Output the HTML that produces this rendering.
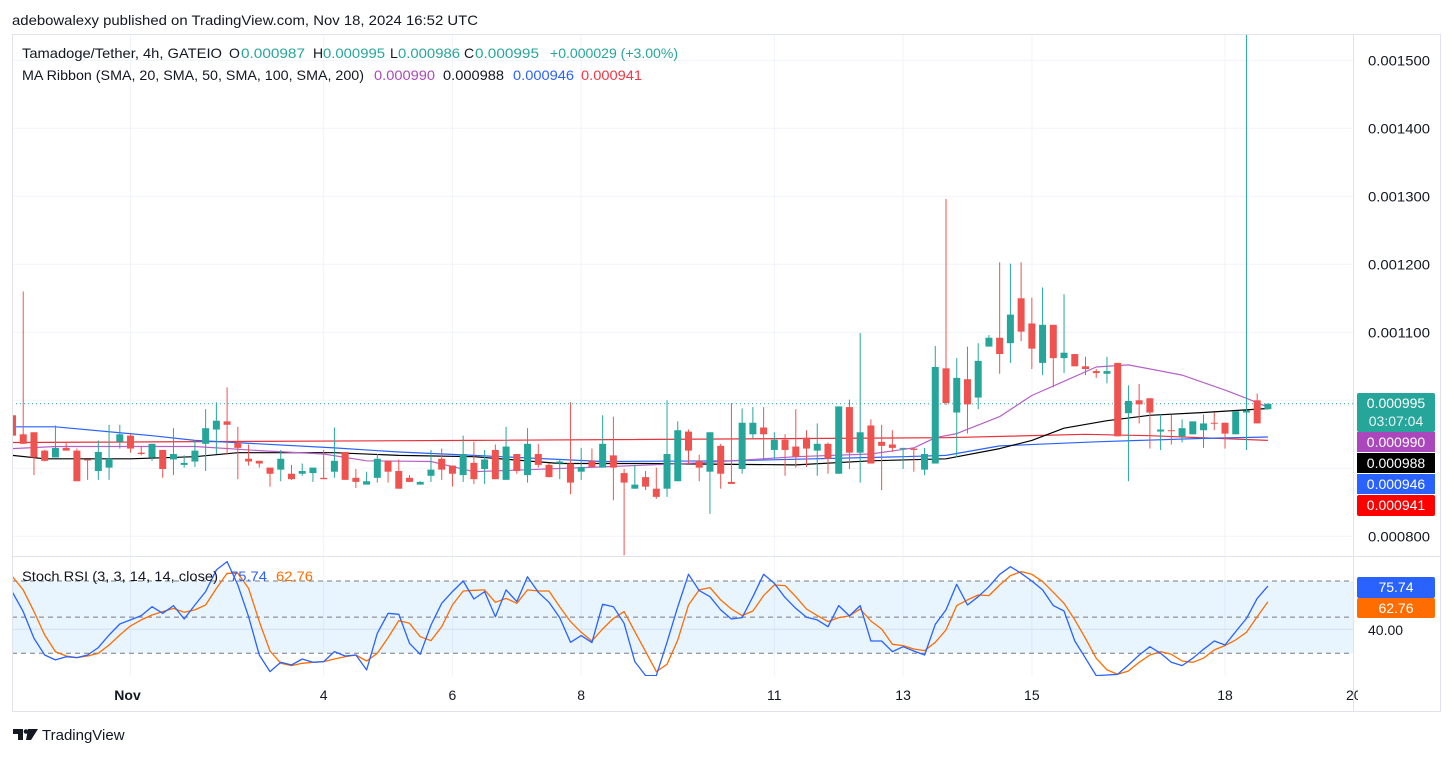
<!DOCTYPE html>
<html>
<head>
<meta charset="utf-8">
<style>
  html,body{margin:0;padding:0;background:#fff;}
  body{width:1454px;height:756px;overflow:hidden;font-family:"Liberation Sans",sans-serif;}
  svg text{font-family:"Liberation Sans",sans-serif;}
</style>
</head>
<body>
<svg id="chart" width="1454" height="756" viewBox="0 0 1454 756" xmlns="http://www.w3.org/2000/svg">
  <defs>
    <clipPath id="clipPrice"><rect x="12" y="34" width="1341" height="522"/></clipPath>
    <clipPath id="clipStoch"><rect x="12" y="557" width="1341" height="119"/></clipPath>
    <clipPath id="clipTime"><rect x="12" y="676" width="1346" height="36"/></clipPath>
  </defs>
  <rect x="0" y="0" width="1454" height="756" fill="#ffffff"/>
  <text x="12" y="25" font-size="14" fill="#131722" textLength="466" lengthAdjust="spacingAndGlyphs">adebowalexy published on TradingView.com, Nov 18, 2024 16:52 UTC</text>

  <g id="grid"></g>
  <rect x="12" y="581" width="1341" height="72" fill="rgba(33,150,243,0.1)"/>
  <g id="stochGuides"></g>
  <g id="maLayer" clip-path="url(#clipPrice)"></g>
  <g id="candleLayer" clip-path="url(#clipPrice)"></g>
  <g id="stochLayer" clip-path="url(#clipStoch)"></g>

  <rect x="12.5" y="34.5" width="1428" height="677" fill="none" stroke="#e0e3eb"/>
  <line x1="1353.5" y1="34" x2="1353.5" y2="712" stroke="#e0e3eb"/>
  <line x1="12" y1="556.5" x2="1441" y2="556.5" stroke="#e0e3eb"/>

  <g id="priceAxis"></g>
  <g id="timeAxis"></g>

  <g font-size="14">
    <text x="22" y="58" fill="#131722" textLength="200" lengthAdjust="spacingAndGlyphs">Tamadoge/Tether, 4h, GATEIO</text>
    <text x="229" y="58" fill="#131722">O</text>
    <text x="241" y="58" fill="#26a69a" textLength="64" lengthAdjust="spacingAndGlyphs">0.000987</text>
    <text x="313" y="58" fill="#131722">H</text>
    <text x="323" y="58" fill="#26a69a" textLength="62" lengthAdjust="spacingAndGlyphs">0.000995</text>
    <text x="390" y="58" fill="#131722">L</text>
    <text x="398" y="58" fill="#26a69a" textLength="62" lengthAdjust="spacingAndGlyphs">0.000986</text>
    <text x="464" y="58" fill="#131722">C</text>
    <text x="475" y="58" fill="#26a69a" textLength="64" lengthAdjust="spacingAndGlyphs">0.000995</text>
    <text x="550" y="58" fill="#26a69a" textLength="128" lengthAdjust="spacingAndGlyphs">+0.000029 (+3.00%)</text>
  </g>
  <g font-size="14">
    <text x="22" y="80" fill="#131722" textLength="342" lengthAdjust="spacingAndGlyphs">MA Ribbon (SMA, 20, SMA, 50, SMA, 100, SMA, 200)</text>
    <text x="374" y="80" fill="#ab47bc" textLength="61" lengthAdjust="spacingAndGlyphs">0.000990</text>
    <text x="443" y="80" fill="#131722" textLength="61" lengthAdjust="spacingAndGlyphs">0.000988</text>
    <text x="513" y="80" fill="#2962ff" textLength="61" lengthAdjust="spacingAndGlyphs">0.000946</text>
    <text x="581" y="80" fill="#f23645" textLength="61" lengthAdjust="spacingAndGlyphs">0.000941</text>
  </g>
  <g font-size="14">
    <text x="22" y="581" fill="#131722" textLength="196" lengthAdjust="spacingAndGlyphs">Stoch RSI (3, 3, 14, 14, close)</text>
    <text x="230" y="581" fill="#2962ff" textLength="37" lengthAdjust="spacingAndGlyphs">75.74</text>
    <text x="276" y="581" fill="#ff6d00" textLength="37" lengthAdjust="spacingAndGlyphs">62.76</text>
  </g>

  <g font-size="14" fill="#fff">
    <rect x="1357" y="393" width="78" height="39" rx="2" fill="#26a69a"/>
    <text x="1396" y="408" text-anchor="middle" fill="#fff">0.000995</text>
    <text x="1396" y="426" text-anchor="middle" fill="#e6f4f2">03:07:04</text>
    <rect x="1357" y="432" width="78" height="20" fill="#ab47bc"/>
    <text x="1396" y="447" text-anchor="middle" fill="#fff">0.000990</text>
    <rect x="1357" y="453" width="78" height="20" fill="#000"/>
    <text x="1396" y="468" text-anchor="middle" fill="#fff">0.000988</text>
    <rect x="1357" y="474" width="78" height="20" fill="#2962ff"/>
    <text x="1396" y="489" text-anchor="middle" fill="#fff">0.000946</text>
    <rect x="1357" y="495" width="78" height="21" rx="2" fill="#ff0000"/>
    <text x="1396" y="510" text-anchor="middle" fill="#fff">0.000941</text>

    <rect x="1357" y="577" width="78" height="21" rx="2" fill="#2962ff"/>
    <text x="1396" y="592" text-anchor="middle" fill="#fff">75.74</text>
    <rect x="1357" y="598" width="78" height="20" rx="2" fill="#ff6d00"/>
    <text x="1396" y="613" text-anchor="middle" fill="#fff">62.76</text>
    <text x="1368" y="635" fill="#131722">40.00</text>
  </g>

  <g>
    <path d="M13 729 h10 v11 h-5 v-6 h-5 z M28 729 h10 l-7 11 h-5 z" fill="#131722"/>
    <circle cx="26" cy="731.5" r="2.3" fill="#131722"/>
    <text x="42" y="740" font-size="15" fill="#131722">TradingView</text>
  </g>
</svg>

<script>
const opens = [978,950,953,926,916,930,926,913,896,901,939,948,923,916,927,913,905,910,936,957,969,938,914,911,901,898,892,892,893,886,895,924,886,876,886,911,896,886,876,889,914,904,890,908,899,927,883,921,890,921,905,907,907,895,911,901,919,893,870,887,870,870,881,954,911,895,933,880,899,950,960,927,942,932,945,926,936,892,990,923,963,939,935,929,929,898,907,1047,982,1031,1004,1079,1092,1084,1150,1113,1055,1111,1062,1068,1050,1043,1039,1055,981,1000,1003,954,956,947,950,956,967,967,950,982,1000,987];
const highs = [978,1160,953,927,963,938,929,913,941,964,964,950,933,936,927,959,919,941,987,997,1019,961,935,911,901,927,905,907,901,927,960,924,899,895,921,911,913,890,881,927,929,904,948,939,927,935,961,921,959,936,907,914,997,930,929,978,976,899,905,896,901,1000,969,957,920,953,936,996,988,990,990,953,950,987,956,966,938,991,1001,1099,972,964,956,930,929,930,1080,1296,1062,1079,1084,1096,1203,1201,1203,1151,1166,1111,1156,1068,1064,1046,1064,1055,1022,1024,1003,979,979,972,969,979,982,967,984,1545,1010,995];
const lows = [948,936,890,910,916,926,881,883,883,883,929,923,919,911,886,890,901,902,896,921,920,884,904,901,873,881,883,889,880,884,886,883,871,876,879,879,870,880,876,880,883,873,880,877,877,884,883,892,879,901,887,884,862,883,902,901,853,772,870,868,855,858,881,907,881,833,870,877,892,944,914,914,889,901,902,889,892,892,899,879,907,868,924,899,895,890,907,993,916,951,987,1079,1039,1055,1087,1046,1037,1019,1040,1050,1037,1033,1025,947,881,966,929,927,935,938,950,930,956,929,950,927,966,986];
const closes = [948,936,916,911,930,926,881,912,924,914,950,929,921,936,899,921,908,926,959,970,964,930,910,907,892,914,884,896,901,884,911,883,880,881,914,895,870,880,880,898,898,892,921,884,913,884,932,896,936,905,887,910,879,902,902,936,901,879,876,873,858,921,956,926,901,953,892,877,967,967,950,942,927,917,929,936,914,991,923,953,907,933,930,930,927,921,1049,996,1033,994,1058,1092,1068,1126,1101,1076,1111,1062,1070,1050,1046,1040,1043,947,999,994,982,957,955,959,969,966,966,951,984,985,966,995];

const sma20Idx = [0,4,10,17,23,29,33,39,43,55,64,73,80,84,86,88,92,95,98,101,104,109,113,115,117];
const sma20Val = [929,932,932,932,926,921,911,910,895,902,908,917,921,930,945,951,976,1007,1028,1049,1052,1037,1015,1003,990];
const sma50Idx = [0,3,11,17,21,30,36,43,51,59,73,80,87,92,95,98,102,106,111,117];
const sma50Val = [919,914,914,917,923,923,919,917,907,907,905,911,914,929,941,959,970,978,982,988];
const sma100Idx = [0,4,13,17,30,36,43,55,67,83,87,92,101,111,117];
const sma100Val = [961,961,948,941,930,924,919,910,911,917,919,933,939,944,946];
const sma200Idx = [0,43,87,100,106,117];
const sma200Val = [938,941,945,950,948,941];

const stochK = [70.6,54.6,32.4,18.6,14.5,17.2,16.4,18.6,24.7,35.2,44.3,47.7,51.3,58.7,53.2,59.6,48.5,60.1,71.2,89.2,96.1,76.8,50.4,18.6,4.8,12.5,10.3,15.3,12.5,13.1,21.4,17.8,18.6,6.2,36.6,53.2,52.4,28.3,19.2,43.5,61.5,71.2,80,65.1,
  71.2,50.4,72.6,62.9,83.6,70.6,62.3,49.6,29.1,34.7,28.9,60.7,58.7,44.9,13.1,1.5,1.5,29.1,58.7,85.6,72,67,56,48.5,49.6,67,85.6,78.1,66.2,57.3,49.9,47.7,42.1,59.6,51,59.6,30.2,30.2,21.4,25.5,21.9,18.6,
  44.1,56,77.3,60.1,67,75.3,85.6,91.9,86.4,80,72.6,59.6,55.1,30.2,15.9,1.5,2,2.6,10.3,18.6,25.5,20,12.5,9.8,15.9,23.3,30.2,26.9,38,49,65.6,75.74];
const stochD = [83.6,72.6,54.6,35.2,21.4,17.8,16.4,17.8,20,26.9,35.2,42.7,47.7,51.8,54.6,57.3,54,56,60.1,73.9,86.4,86.4,73.9,46.3,21.9,11.7,9.8,11.7,12.5,13.1,15.3,17.2,18.6,13.6,20,33,47.1,44.9,33.8,30.5,42.1,60.1,71.7,72.3,
  72.6,62.3,65.6,61.5,72.6,71.7,71.7,58.7,46.3,37.4,30.2,40.2,49,54.6,38,21.4,4.8,10.9,31.1,60.1,72.6,74.5,64.3,56.8,51.3,55.1,67.9,76.7,76.2,67,56.8,51.3,46.3,49.6,51,56.8,46.8,40.2,27.5,26.4,23.6,22.2,
  29.1,39.4,59.6,64.3,68.4,67.9,76.7,84.5,87.8,85.6,79.5,70.6,61.5,47.7,32.4,15.9,6.2,2.6,5.3,12.5,18.6,21.4,19.2,13.6,12.5,15.9,22.8,26.4,31.1,37.4,50.4,62.76];

const priceTicks = [1500,1400,1300,1200,1100,1000,900,800];
const priceTickLabels = ["0.001500","0.001400","0.001300","0.001200","0.001100","","","0.000800"];
const dayTickIdx = [11,29,41,53,71,83,95,113,125];
const dayTickLabels = ["Nov","4","6","8","11","13","15","18","20"];
const stochLevels = [80,50,20];
const lastClose = 995;

function xOf(k){ return 12.5 + k*10.73; }
function yP(v){ return 400.3 - (v-1000)*0.68; }
function yS(v){ return 653.3 - (v-20)*1.205; }

const NS = "http://www.w3.org/2000/svg";
function mk(tag, attrs, parent){
  const e = document.createElementNS(NS, tag);
  for (const a in attrs) e.setAttribute(a, attrs[a]);
  parent.appendChild(e);
  return e;
}

const grid = document.getElementById('grid');
priceTicks.forEach(function(t){
  const l = mk('line', {x1:12, x2:1353, y1:yP(t), y2:yP(t), stroke:'#f0f3fa', 'stroke-width':1}, grid);
  
  
});
dayTickIdx.forEach(function(k){
  const x = xOf(k);
  if (x > 1353) return;
  const l = mk('line', {x1:x, x2:x, y1:34, y2:676, stroke:'#f0f3fa', 'stroke-width':1}, grid);
  
  
});
const g40 = mk('line', {x1:12, x2:1353, y1:yS(40), y2:yS(40), stroke:'#e3eaf3', 'stroke-width':1}, grid);



const sg = document.getElementById('stochGuides');
stochLevels.forEach(function(v){
  const l = mk('line', {x1:12, x2:1353, y1:yS(v), y2:yS(v), stroke:'#787b86', 'stroke-width':1, 'stroke-dasharray':'5 4'}, sg);
  
  
});

const lp = mk('line', {x1:12, x2:1353, y1:yP(lastClose), y2:yP(lastClose), stroke:'#26a69a', 'stroke-width':1, 'stroke-dasharray':'1 3'}, document.getElementById('maLayer'));



function maLine(idx, vals, color, name){
  const pts = idx.map(function(k,j){ return xOf(k).toFixed(1)+','+yP(vals[j]).toFixed(1); }).join(' ');
  const pl = mk('polyline', {points:pts, fill:'none', stroke:color, 'stroke-width':1.2, 'stroke-linejoin':'round'}, document.getElementById('maLayer'));
  
  
}
maLine(sma200Idx, sma200Val, '#e8313a', 'sma200-line');
maLine(sma100Idx, sma100Val, '#2962ff', 'sma100-line');
maLine(sma50Idx, sma50Val, '#000000', 'sma50-line');
maLine(sma20Idx, sma20Val, '#b561c7', 'sma20-line');

const cl = document.getElementById('candleLayer');
for (let k = 0; k < opens.length; k++){
  const up = closes[k] >= opens[k];
  const col = up ? '#26a69a' : '#ef5350';
  const x = xOf(k);
  const g = mk('g', {}, cl);
  
  
  mk('line', {x1:x, x2:x, y1:yP(highs[k]), y2:yP(lows[k]), stroke:col, 'stroke-width':1}, g);
  const top = yP(Math.max(opens[k], closes[k]));
  const bot = yP(Math.min(opens[k], closes[k]));
  mk('rect', {x:x-3.5, y:top, width:7, height:Math.max(1, bot-top), fill:col}, g);
}

function stochLine(vals, color, name){
  const pts = vals.map(function(v,k){ return xOf(k).toFixed(1)+','+yS(v).toFixed(1); }).join(' ');
  const pl = mk('polyline', {points:pts, fill:'none', stroke:color, 'stroke-width':1.3, 'stroke-linejoin':'round'}, document.getElementById('stochLayer'));
  
  
}
stochLine(stochD, '#ff6d00', 'stoch-d-line');
stochLine(stochK, '#2962ff', 'stoch-k-line');

const pa = document.getElementById('priceAxis');
priceTicks.forEach(function(t,j){
  if (!priceTickLabels[j]) return;
  const tx = mk('text', {x:1368, y:yP(t)+5, 'font-size':14, fill:'#131722', textLength:62, lengthAdjust:'spacingAndGlyphs'}, pa);
  tx.textContent = priceTickLabels[j];
  
  
});

const ta = document.getElementById('timeAxis');
const tclip = mk('g', {'clip-path':'url(#clipTime)'}, ta);
dayTickIdx.forEach(function(k,j){
  const tx = mk('text', {x:xOf(k) - (j===0 ? 3 : 0), y:700, 'font-size':14, fill:'#131722', 'text-anchor':'middle', 'font-weight': j===0 ? 'bold' : 'normal'}, tclip);
  tx.textContent = dayTickLabels[j];
  
  
});
</script>
</body>
</html>
